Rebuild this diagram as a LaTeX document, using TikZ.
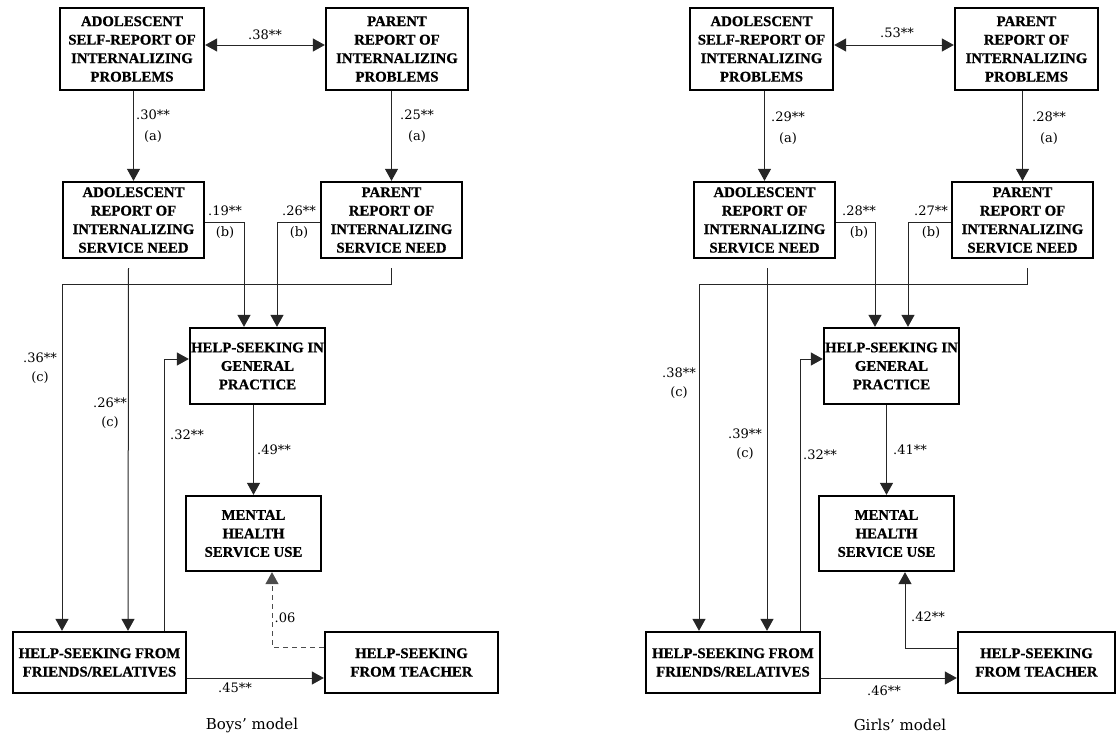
\documentclass[tikz,border=0pt]{standalone}
\usepackage{fontspec}
\setmainfont{Liberation Serif}
\newfontfamily\boxfont{Liberation Serif}[BoldFeatures={FakeBold=0.9}]
\newfontfamily\lblfont{DejaVu Serif}
\usetikzlibrary{arrows.meta}
\begin{document}
\begin{tikzpicture}[x=1pt,y=-1pt,
  box/.style={draw, line width=2.3pt, inner sep=0pt, align=center,
    font=\boxfont\fontsize{14.8}{18.5}\selectfont\bfseries},
  conn/.style={draw=black!85, line width=1pt, -{Triangle[length=12pt,width=13pt]}},
  dblconn/.style={draw=black!85, line width=1pt, {Triangle[length=12pt,width=13pt]}-{Triangle[length=12pt,width=13pt]}},
  dashconn/.style={conn, draw=black!70, dash pattern=on 5pt off 4pt},
  lbl/.style={font=\lblfont\fontsize{13}{15.5}\selectfont, align=center, inner sep=0pt},
  captxt/.style={font=\lblfont\fontsize{15}{18}\selectfont, inner sep=0pt}]
\useasboundingbox (0,0) rectangle (1117,736);

% ---------------- Boys' model ----------------
\node[box, minimum width=144pt, minimum height=82pt] (bA1) at (132,49) {ADOLESCENT\\SELF-REPORT OF\\INTERNALIZING\\PROBLEMS};
\node[box, minimum width=142pt, minimum height=82pt] (bP1) at (397,49) {PARENT\\REPORT OF\\INTERNALIZING\\PROBLEMS};
\node[box, minimum width=141pt, minimum height=76pt] (bA2) at (133.5,220) {ADOLESCENT\\REPORT OF\\INTERNALIZING\\SERVICE NEED};
\node[box, minimum width=141pt, minimum height=76pt] (bP2) at (391.5,220) {PARENT\\REPORT OF\\INTERNALIZING\\SERVICE NEED};
\node[box, minimum width=135pt, minimum height=76pt] (bGP) at (257.5,366) {HELP-SEEKING IN\\GENERAL\\PRACTICE};
\node[box, minimum width=135pt, minimum height=75pt] (bMH) at (253.5,533.5) {MENTAL\\HEALTH\\SERVICE USE};
\node[box, minimum width=173pt, minimum height=61pt] (bFR) at (99.5,662.5) {HELP-SEEKING FROM\\FRIENDS/RELATIVES};
\node[box, minimum width=173pt, minimum height=61pt] (bTE) at (411.5,662.5) {HELP-SEEKING\\FROM TEACHER};

\draw[dblconn] ([yshift=4pt]bA1.east) -- ([yshift=4pt]bP1.west);
\draw[conn] (bA1.south -| bA2.north) -- (bA2.north);
\draw[conn] (bP1.south -| bP2.north) -- (bP2.north);
\draw[conn] ([yshift=-2pt]bA2.east) -| ([xshift=-13.5pt]bGP.north);
\draw[conn] ([yshift=-2pt]bP2.west) -| ([xshift=19.5pt]bGP.north);
\draw[conn] ([yshift=-9pt]bP2.south) -- ++(0,16) -| ([xshift=-37.5pt]bFR.north);
\draw[conn] ([yshift=-9pt,xshift=-5pt]bA2.south) -- ([xshift=28.5pt]bFR.north);
\draw[conn] ([xshift=64.5pt]bFR.north) |- ([yshift=7pt]bGP.west);
\draw[conn] (bGP.south -| bMH.north) -- (bMH.north);
\draw[conn] ([yshift=-15.5pt]bFR.east) -- ([yshift=-15.5pt]bTE.west);
\draw[dashconn] ([yshift=15.5pt]bTE.west) -| ([xshift=18.5pt]bMH.south);

\node[lbl] (bl1) at (265,35) {.38**};
\node[lbl] (bl2) at (153,126) {.30**\\[5pt](a)};
\node[lbl] (bl3) at (417,126) {.25**\\[5pt](a)};
\node[lbl] (bl4) at (225,222) {.19**\\[5pt](b)};
\node[lbl] (bl5) at (299,222) {.26**\\[5pt](b)};
\node[lbl] (bl6) at (40,368) {.36**\\[3pt](c)};
\node[lbl] (bl7) at (110,413) {.26**\\[3pt](c)};
\node[lbl] (bl8) at (187,435) {.32**};
\node[lbl] (bl9) at (274,450) {.49**};
\node[lbl] (bl10) at (235,688) {.45**};
\node[lbl] (bl11) at (285,618) {.06};
\node[captxt] (bcap) at (252,725) {Boys’ model};

% ---------------- Girls' model ----------------
\node[box, minimum width=143pt, minimum height=82pt] (gA1) at (761.5,49) {ADOLESCENT\\SELF-REPORT OF\\INTERNALIZING\\PROBLEMS};
\node[box, minimum width=143pt, minimum height=82pt] (gP1) at (1026.5,49) {PARENT\\REPORT OF\\INTERNALIZING\\PROBLEMS};
\node[box, minimum width=141pt, minimum height=76pt] (gA2) at (764.5,220) {ADOLESCENT\\REPORT OF\\INTERNALIZING\\SERVICE NEED};
\node[box, minimum width=141pt, minimum height=76pt] (gP2) at (1022.5,220) {PARENT\\REPORT OF\\INTERNALIZING\\SERVICE NEED};
\node[box, minimum width=135pt, minimum height=76pt] (gGP) at (891.5,366) {HELP-SEEKING IN\\GENERAL\\PRACTICE};
\node[box, minimum width=135pt, minimum height=75pt] (gMH) at (886.5,533.5) {MENTAL\\HEALTH\\SERVICE USE};
\node[box, minimum width=174pt, minimum height=61pt] (gFR) at (733,662.5) {HELP-SEEKING FROM\\FRIENDS/RELATIVES};
\node[box, minimum width=157pt, minimum height=61pt] (gTE) at (1036.5,662.5) {HELP-SEEKING\\FROM TEACHER};

\draw[dblconn] ([yshift=4pt]gA1.east) -- ([yshift=4pt]gP1.west);
\draw[conn] (gA1.south -| gA2.north) -- (gA2.north);
\draw[conn] (gP1.south -| gP2.north) -- (gP2.north);
\draw[conn] ([yshift=-2pt]gA2.east) -| ([xshift=-16.5pt]gGP.north);
\draw[conn] ([yshift=-2pt]gP2.west) -| ([xshift=16.5pt]gGP.north);
\draw[conn] ([yshift=-9pt,xshift=4.5pt]gP2.south) -- ++(0,16) -| ([xshift=-34pt]gFR.north);
\draw[conn] ([yshift=-9pt,xshift=2.5pt]gA2.south) -- ([xshift=34pt]gFR.north);
\draw[conn] ([xshift=67pt]gFR.north) |- ([yshift=7pt]gGP.west);
\draw[conn] (gGP.south -| gMH.north) -- (gMH.north);
\draw[conn] ([yshift=-15.5pt]gFR.east) -- ([yshift=-15.5pt]gTE.west);
\draw[conn] ([yshift=14.5pt]gTE.west) -| ([xshift=18.5pt]gMH.south);

\node[lbl] (gl1) at (897,33) {.53**};
\node[lbl] (gl2) at (788,128) {.29**\\[5pt](a)};
\node[lbl] (gl3) at (1049,128) {.28**\\[5pt](a)};
\node[lbl] (gl4) at (859,222) {.28**\\[5pt](b)};
\node[lbl] (gl5) at (931,222) {.27**\\[5pt](b)};
\node[lbl] (gl6) at (679,383) {.38**\\[3pt](c)};
\node[lbl] (gl7) at (745,444) {.39**\\[3pt](c)};
\node[lbl] (gl8) at (820,455) {.32**};
\node[lbl] (gl9) at (910,450) {.41**};
\node[lbl] (gl10) at (884,691) {.46**};
\node[lbl] (gl11) at (928,617) {.42**};
\node[captxt] (gcap) at (900,725) {Girls’ model};
\end{tikzpicture}
\end{document}
